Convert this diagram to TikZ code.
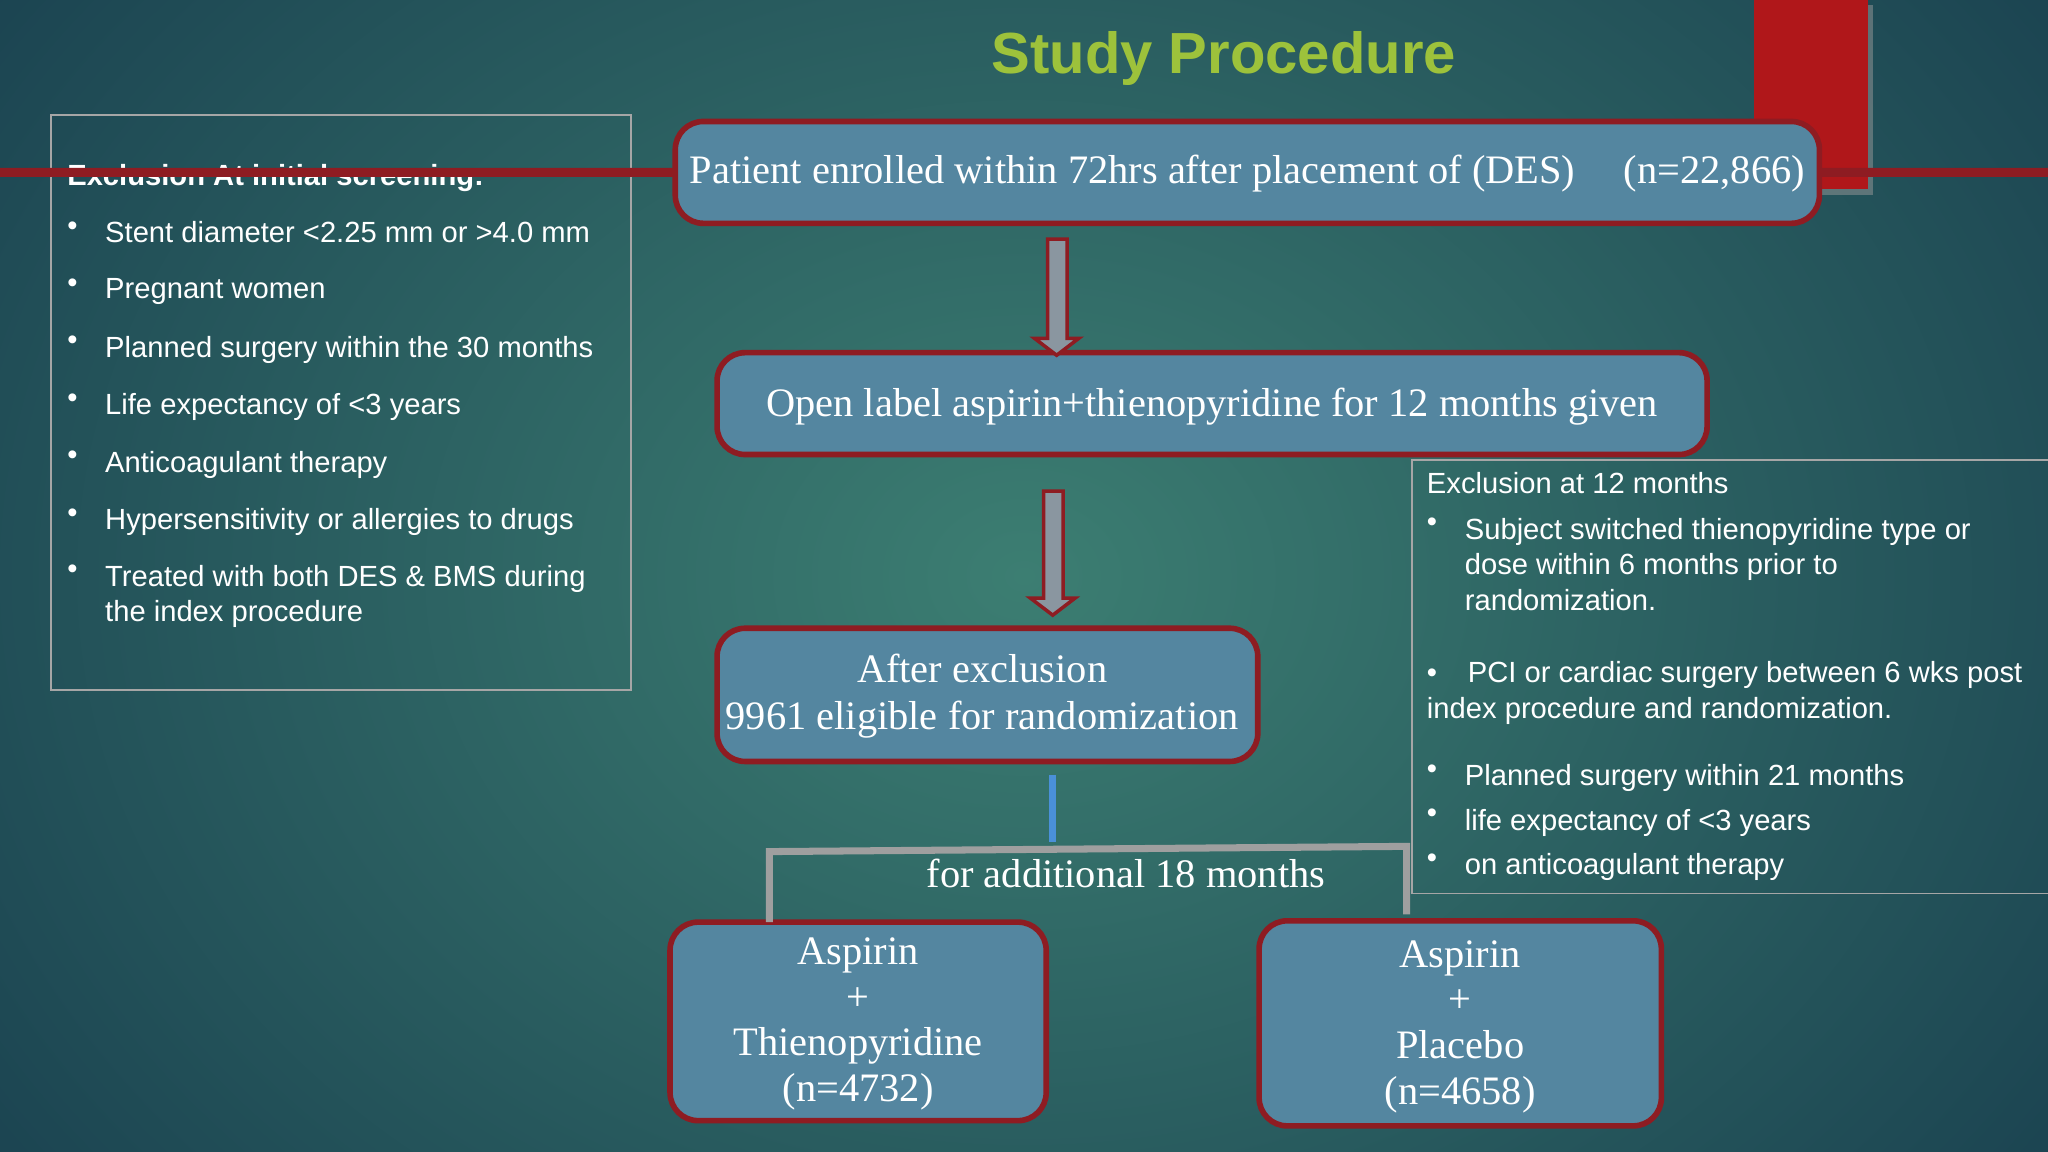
\documentclass[tikz,border=0pt]{standalone}
\usepackage{fontspec}
\setmainfont{Liberation Serif}
\newfontfamily\sansf{Liberation Sans}
\usetikzlibrary{shadows}
\definecolor{bgin}{HTML}{3C7E72}
\definecolor{bgout}{HTML}{14374A}
\definecolor{boxfill}{HTML}{5486A0}
\definecolor{boxline}{HTML}{8E1C22}
\definecolor{ttl}{HTML}{9DC23B}
\definecolor{redbar}{HTML}{B0171A}
\definecolor{arrfill}{HTML}{8A96A0}
\tikzset{
 flowbox/.style={draw=boxline,line width=1.6pt,fill=boxfill,rounded corners=8pt,text=white,align=center,font=\fontsize{11.5}{14}\selectfont,inner sep=0pt},
 blockarrow/.style={draw=boxline,fill=arrfill,line width=1pt},
 panel/.style={draw=gray!70,line width=0.5pt},
 listtext/.style={text=white,font=\sansf\fontsize{8.3}{10.2}\selectfont,anchor=north west,align=left,inner sep=0pt}
}
\begin{document}
\begin{tikzpicture}[x=0.013061cm,y=-0.013061cm]
\useasboundingbox (0,0) rectangle (1568,882);
\shade[inner color=bgin,outer color=bgout] (-400,-500) rectangle (1968,1382);
\fill[black!40,opacity=0.5] (1347,4) rectangle (1434,149);
\fill[redbar] (1343,0) rectangle (1430,145);
\node[text=ttl,font=\sansf\bfseries\fontsize{16.5}{20}\selectfont] (title) at (937,45) {Study Procedure};
% left panel
\draw[panel] (39,88) rectangle (483,528);
\node[listtext,font=\sansf\bfseries\fontsize{8.3}{10}\selectfont] (lh) at (51,125) {Exclusion At initial screening:};
\foreach \y/\t in {169/{Stent diameter <2.25 mm or >4.0 mm},213/{Pregnant women},257/{Planned surgery within the 30 months},301/{Life expectancy of <3 years},345/{Anticoagulant therapy},389/{Hypersensitivity or allergies to drugs},432/{Treated with both DES \& BMS during\\the index procedure}}{
 \node[listtext] at (51,\y) {•};
 \node[listtext] at (80,\y) {\t};
}
% boxes
\node[flowbox,minimum width=876\pgflinewidth] (b1) at (955,132) {};
\path (517,93) coordinate (b1a) (1393,171) coordinate (b1b);
\draw[flowbox] (b1a) rectangle (b1b);
\node[text=white,font=\fontsize{11.5}{14}\selectfont] (t1) at (955,133) {Patient enrolled within 72hrs after placement of (DES)\hspace{1.2em}(n=22,866)};
\draw[flowbox] (549,270) rectangle (1307,348);
\node[text=white,font=\fontsize{11.5}{14}\selectfont] (t2) at (928,311) {Open label aspirin+thienopyridine for 12 months given};
\draw[flowbox] (549,481) rectangle (963,583);
\node[text=white,align=center,font=\fontsize{11.5}{13.2}\selectfont] (t3) at (752,533) {After exclusion\\9961 eligible for randomization};
\draw[flowbox] (513,706) rectangle (801,858);
\node[text=white,align=center,font=\fontsize{11.5}{13}\selectfont] (t4) at (657,784) {Aspirin\\+\\Thienopyridine\\(n=4732)};
\draw[flowbox] (964,705) rectangle (1272,862);
\node[text=white,align=center,font=\fontsize{11.5}{13}\selectfont] (t5) at (1118,786) {Aspirin\\+\\Placebo\\(n=4658)};
% block arrows
\draw[blockarrow] (802,183) -- (817,183) -- (817,259) -- (826,259) -- (809,272) -- (792,259) -- (802,259) -- cycle;
\draw[blockarrow] (799,376) -- (814,376) -- (814,458) -- (823,458) -- (806,471) -- (789,458) -- (799,458) -- cycle;
% split
\coordinate (s0) at (806,593);
\coordinate (s1) at (806,645);
\draw[color={rgb,255:red,74;green,144;blue,217},line width=2pt] (s0) -- (s1);
\draw[gray!75,line width=2pt] (589,706) -- (589,652) -- (1077,648) -- (1077,700);
\node[text=white,font=\fontsize{11.5}{14}\selectfont] (lab) at (862,669) {for additional 18 months};
% right panel
\draw[panel] (1568,352) -- (1081,352) -- (1081,684) -- (1568,684);
\node[listtext] (rh) at (1092,361) {Exclusion at 12 months};
\node[listtext] at (1092,396) {•};
\node[listtext] at (1121,396) {Subject switched thienopyridine type or\\dose within 6 months prior to\\randomization.};
\node[listtext] at (1092,506) {•\hspace{1.05em}PCI or cardiac surgery between 6 wks post\\index procedure and randomization.};
\foreach \y/\t in {585/{Planned surgery within 21 months},619/{life expectancy of <3 years},653/{on anticoagulant therapy}}{
 \node[listtext] at (1092,\y) {•};
 \node[listtext] at (1121,\y) {\t};
}
\end{tikzpicture}
\end{document}
